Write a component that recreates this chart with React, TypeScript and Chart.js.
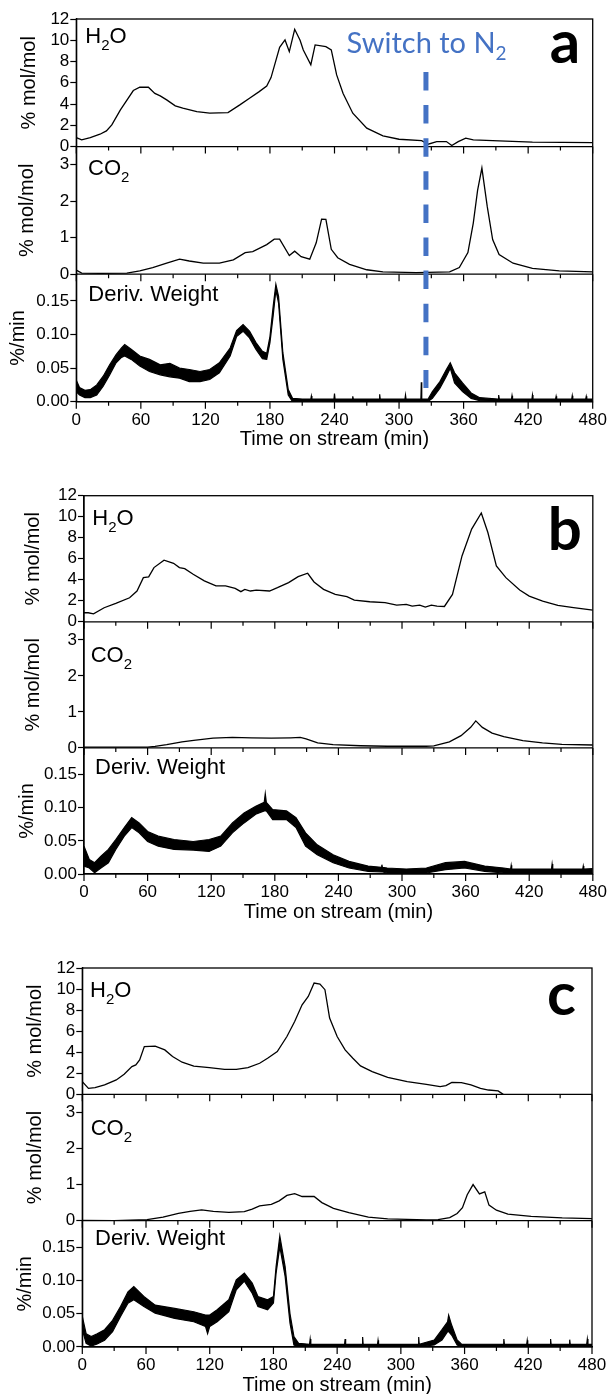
import React, { useEffect, useRef } from 'react';
import { Chart, registerables } from 'chart.js';
Chart.register(...registerables);

// ---------- axis ticks ----------
const X_TICKS = [0, 60, 120, 180, 240, 300, 360, 420, 480];
const X_MINOR = [30, 90, 150, 210, 270, 330, 390, 450];
const H2O_TICKS = [0, 2, 4, 6, 8, 10, 12];
const CO2_TICKS = [0, 1, 2, 3];
const DW_TICKS = [0, 0.05, 0.1, 0.15];
const SWITCH_TIME = 325;

// ---------- panel a ----------
const A_H2O: [number, number][] = [
  [0, 0.85], [5, 0.63], [13, 0.85], [22, 1.16], [28, 1.47], [33, 2.04], [41, 3.45], [53, 5.27], [59, 5.58],
  [67, 5.58], [73, 5.0], [78, 4.77], [84, 4.39], [92, 3.83], [99, 3.61], [112, 3.29], [124, 3.14], [141, 3.2],
  [152, 3.92], [161, 4.55], [170, 5.17], [177, 5.7], [181, 6.49], [189, 9.34], [194, 10.03], [198, 8.93],
  [203, 11.03], [208, 10.0], [211, 9.09], [218, 7.7], [222, 9.56], [232, 9.4], [237, 9.09], [242, 6.74],
  [248, 5.0], [257, 3.14], [270, 1.73], [285, 1.0], [300, 0.69], [321, 0.56], [327, 0.22], [335, 0.47],
  [344, 0.47], [349, 0.1], [355, 0.47], [362, 0.79], [369, 0.63], [393, 0.54], [424, 0.41], [480, 0.38],
];
const A_CO2: [number, number][] = [
  [0, 0.11], [5, 0.03], [22, 0.02], [47, 0.03], [59, 0.09], [71, 0.18], [84, 0.3], [96, 0.41], [105, 0.36],
  [118, 0.3], [133, 0.3], [146, 0.39], [157, 0.59], [164, 0.62], [177, 0.81], [184, 0.96], [189, 0.96],
  [198, 0.51], [203, 0.63], [209, 0.48], [217, 0.41], [223, 0.86], [228, 1.51], [232, 1.5], [237, 0.68],
  [243, 0.45], [254, 0.27], [270, 0.12], [285, 0.06], [316, 0.04], [347, 0.06], [356, 0.18], [364, 0.59],
  [369, 1.4], [373, 2.3], [377, 2.91], [382, 1.85], [387, 0.95], [393, 0.54], [406, 0.3], [424, 0.16],
  [449, 0.09], [480, 0.06],
];
// [time, upper edge, lower edge] of the noisy derivative trace
const A_DW: [number, number, number][] = [
  [0, 0.032, 0.015], [3, 0.021, 0.01], [8, 0.017, 0.006], [13, 0.018, 0.006], [19, 0.025, 0.01],
  [25, 0.038, 0.023], [31, 0.055, 0.04], [37, 0.07, 0.058], [42, 0.08, 0.066], [45, 0.085, 0.068],
  [51, 0.078, 0.063], [59, 0.068, 0.053], [68, 0.063, 0.045], [78, 0.055, 0.04], [87, 0.057, 0.037],
  [96, 0.05, 0.035], [105, 0.048, 0.03], [115, 0.045, 0.03], [124, 0.048, 0.033], [133, 0.058, 0.043],
  [143, 0.08, 0.068], [149, 0.106, 0.097], [155, 0.115, 0.105], [161, 0.105, 0.095], [167, 0.088, 0.078],
  [173, 0.075, 0.064], [177, 0.072, 0.063], [180, 0.097, 0.088], [183, 0.142, 0.128], [185.5, 0.175, 0.166],
  [188, 0.157, 0.147], [192, 0.073, 0.063], [197, 0.018, 0.01], [201, 0.005, 0.0], [210, 0.004, 0.0005],
  [218, 0.004, 0.0005], [218.5, 0.0085, 0.0005], [219, 0.004, 0.0005], [239.5, 0.004, 0.0005],
  [240, 0.012, 0.0005], [240.5, 0.004, 0.0005], [256.5, 0.004, 0.0005], [257, 0.008, 0.0005],
  [257.5, 0.004, 0.0005], [281.5, 0.004, 0.0005], [282, 0.011, 0.0005], [282.5, 0.004, 0.0005],
  [305.5, 0.004, 0.0005], [306, 0.01, 0.0005], [306.5, 0.004, 0.0005], [320.3, 0.004, 0.0005],
  [320.7, 0.029, 0.0005], [321.1, 0.004, 0.0005], [327, 0.004, 0.0005], [331, 0.015, 0.005],
  [338, 0.03, 0.02], [344, 0.048, 0.038], [347.6, 0.058, 0.05], [351.6, 0.043, 0.028], [359, 0.028, 0.015],
  [367, 0.013, 0.005], [375, 0.006, 0.0015], [392, 0.004, 0.0005], [392.6, 0.01, 0.0005],
  [393.2, 0.004, 0.0005], [404.5, 0.004, 0.0005], [405, 0.009, 0.0005], [405.5, 0.004, 0.0005],
  [423.5, 0.004, 0.0005], [424, 0.01, 0.0005], [424.5, 0.004, 0.0005], [445.5, 0.004, 0.0005],
  [446, 0.008, 0.0005], [446.5, 0.004, 0.0005], [460.5, 0.004, 0.0005], [461, 0.009, 0.0005],
  [461.5, 0.004, 0.0005], [473.5, 0.004, 0.0005], [474, 0.008, 0.0005], [474.5, 0.004, 0.0005],
  [480, 0.004, 0.0005],
];

// ---------- panel b ----------
const B_H2O: [number, number][] = [
  [0, 0.86], [4, 0.86], [9, 0.76], [19, 1.34], [30, 1.75], [43, 2.29], [50, 2.93], [56, 4.2], [61, 4.27],
  [66, 5.16], [75.5, 5.86], [84.5, 5.57], [90, 5.16], [95, 5.06], [103, 4.52], [113.5, 3.89], [124.5, 3.41],
  [133.5, 3.41], [142.6, 3.18], [148, 2.87], [151.7, 3.09], [157, 2.93], [162.5, 3.02], [175, 2.93],
  [182.5, 3.25], [193, 3.73], [202, 4.3], [211, 4.62], [217, 3.79], [226, 3.09], [237, 2.61], [248, 2.39],
  [255, 2.07], [269.6, 1.91], [284, 1.82], [295, 1.59], [304, 1.66], [309.6, 1.5], [316.7, 1.59], [322, 1.4],
  [327.7, 1.59], [333, 1.5], [340, 1.46], [347.6, 2.61], [356.6, 6.27], [365.7, 8.82], [374.8, 10.35],
  [381, 8.5], [389, 5.32], [398, 4.2], [411, 3.02], [420, 2.45], [432.7, 1.97], [447, 1.56], [461.8, 1.34],
  [480, 1.11],
];
const B_CO2: [number, number][] = [
  [0, 0.02], [30, 0.02], [60, 0.02], [67, 0.04], [78, 0.09], [92.5, 0.17], [103.5, 0.21], [121.7, 0.27],
  [140, 0.29], [158, 0.28], [176.6, 0.27], [195, 0.28], [204, 0.29], [209.5, 0.25], [220.4, 0.14], [235, 0.09],
  [260.7, 0.06], [286, 0.046], [322.8, 0.046], [330, 0.055], [344.7, 0.17], [355.7, 0.34], [364.8, 0.57],
  [369.6, 0.75], [375.8, 0.57], [385, 0.41], [396, 0.31], [414, 0.2], [432.5, 0.14], [450.8, 0.1], [480, 0.08],
];
const B_DW: [number, number, number][] = [
  [0, 0.042, 0.012], [5, 0.022, 0.009], [10, 0.017, 0.002], [16, 0.027, 0.009], [23, 0.037, 0.017],
  [30, 0.052, 0.037], [38, 0.07, 0.057], [45, 0.085, 0.07], [52, 0.077, 0.062], [60, 0.064, 0.049],
  [70, 0.057, 0.042], [85, 0.052, 0.037], [103, 0.049, 0.036], [118, 0.052, 0.034], [129, 0.057, 0.042],
  [140, 0.077, 0.062], [151, 0.092, 0.077], [162, 0.102, 0.09], [170, 0.108, 0.095], [171, 0.121, 0.095],
  [172, 0.108, 0.095], [178, 0.097, 0.082], [191, 0.095, 0.082], [200, 0.085, 0.07], [209, 0.062, 0.042],
  [220, 0.044, 0.029], [235, 0.029, 0.017], [250, 0.019, 0.009], [268, 0.012, 0.004], [280.5, 0.01, 0.003],
  [281, 0.014, 0.003], [281.5, 0.01, 0.003], [286, 0.009, 0.0015], [304, 0.0075, 0.0015], [323, 0.009, 0.0015],
  [341, 0.017, 0.0065], [359, 0.019, 0.009], [378, 0.012, 0.004], [396, 0.009, 0.0015], [402.5, 0.0075, 0.0015],
  [403, 0.013, 0.0015], [403.5, 0.0075, 0.0015], [432, 0.0075, 0.001], [441, 0.0075, 0.001], [441.6, 0.015, 0.001],
  [442.2, 0.0075, 0.001], [470.5, 0.0075, 0.001], [471, 0.012, 0.001], [471.5, 0.0075, 0.001], [480, 0.008, 0.001],
];

// ---------- panel c ----------
const C_H2O: [number, number][] = [
  [0, 1.21], [5.8, 0.57], [12, 0.63], [21, 0.89], [32, 1.37], [39.4, 1.9], [46.7, 2.63], [50.4, 2.79],
  [54, 3.27], [58.4, 4.54], [68.6, 4.57], [77.7, 4.22], [85, 3.59], [94, 3.05], [105, 2.67], [119.7, 2.54],
  [134, 2.38], [145, 2.38], [156, 2.54], [167, 2.95], [174.5, 3.43], [183.6, 4.06], [192.7, 5.49], [200, 6.92],
  [207, 8.5], [212.8, 9.3], [218.3, 10.57], [223.8, 10.48], [228.5, 9.94], [232.9, 7.24], [240, 5.49],
  [247.5, 4.22], [254.8, 3.43], [262, 2.7], [273, 2.16], [287.6, 1.62], [306, 1.21], [324, 0.95], [337, 0.73],
  [342.4, 0.83], [348, 1.14], [357, 1.11], [366, 0.89], [375, 0.57], [382.5, 0.41], [391.6, 0.32], [396.4, 0.0],
];
const C_CO2: [number, number][] = [
  [0, 0.01], [30, 0.0], [61, 0.03], [76, 0.1], [90.5, 0.2], [101.5, 0.26], [112.4, 0.3], [123.4, 0.26],
  [138, 0.23], [152.6, 0.25], [160, 0.32], [167, 0.41], [178, 0.45], [185.4, 0.55], [192.7, 0.7], [200, 0.75],
  [207, 0.67], [218.3, 0.67], [225.6, 0.5], [236.5, 0.34], [251, 0.22], [269.4, 0.1], [287.6, 0.05], [324, 0.02],
  [335, 0.03], [346, 0.085], [353, 0.2], [358, 0.36], [362.5, 0.72], [368, 1.0], [374, 0.74], [379, 0.8],
  [383, 0.43], [390, 0.29], [400.8, 0.18], [422.7, 0.12], [452, 0.075], [480, 0.057],
];
const C_DW: [number, number, number][] = [
  [0, 0.046, 0.026], [3.6, 0.02, 0.0055], [8.4, 0.0156, 0.0015], [14, 0.02, 0.0045], [21, 0.026, 0.01],
  [28.5, 0.04, 0.023], [36, 0.061, 0.046], [43, 0.083, 0.066], [48.5, 0.091, 0.071], [58, 0.076, 0.061],
  [68.6, 0.063, 0.051], [87, 0.058, 0.043], [105, 0.053, 0.038], [116, 0.048, 0.031], [118, 0.048, 0.02],
  [120, 0.048, 0.031], [127, 0.056, 0.038], [138, 0.071, 0.053], [145, 0.101, 0.086], [152.6, 0.111, 0.099],
  [160, 0.096, 0.081], [165.4, 0.076, 0.061], [174.5, 0.071, 0.056], [180, 0.076, 0.066], [182.5, 0.121, 0.111],
  [186, 0.167, 0.151], [191, 0.121, 0.106], [195.6, 0.05, 0.036], [199.3, 0.0156, 0.003], [203.7, 0.0055, 0.0005],
  [214, 0.004, 0.0005], [214.6, 0.012, 0.0005], [215.2, 0.004, 0.0005], [247, 0.004, 0.0005], [247.5, 0.012, 0.0005],
  [248, 0.004, 0.0005], [263.5, 0.004, 0.0005], [264, 0.015, 0.0005], [264.5, 0.004, 0.0005], [278, 0.004, 0.0005],
  [278.5, 0.01, 0.0005], [279, 0.004, 0.0005], [316.3, 0.004, 0.0005], [316.8, 0.015, 0.0005], [317.3, 0.004, 0.0005],
  [331.4, 0.0105, 0.003], [338.7, 0.026, 0.0105], [344, 0.038, 0.023], [345, 0.048, 0.023], [347.8, 0.033, 0.018],
  [353, 0.0105, 0.003], [357, 0.0045, 0.0005], [396.5, 0.004, 0.0005], [397, 0.012, 0.0005], [397.5, 0.004, 0.0005],
  [418.5, 0.004, 0.0005], [419, 0.01, 0.0005], [419.5, 0.004, 0.0005], [440.5, 0.004, 0.0005], [441, 0.012, 0.0005],
  [441.5, 0.004, 0.0005], [458.5, 0.004, 0.0005], [459, 0.011, 0.0005], [459.5, 0.004, 0.0005], [475, 0.004, 0.0005],
  [475.6, 0.012, 0.0005], [476.2, 0.004, 0.0005], [480, 0.004, 0.0005],
];

// ---------- layout / style ----------
const FONT = "'Liberation Sans', Arial, Helvetica, sans-serif";
const LETTER_FONT = "Lato, 'Open Sans', 'DejaVu Sans', sans-serif";
const BLUE = '#4472C4';

type Panel = {
  key: string; top: number; height: number; L: number; R: number; T: number; B: number;
  letter: string; letterDx: number; letterDy: number;
  h2oPos: [number, number]; co2Pos: [number, number]; dwPos: [number, number];
  titlePad: [number, number, number];
  h2o: [number, number][]; co2: [number, number][]; dw: [number, number, number][];
  switchN2?: boolean;
};

const PANELS: Panel[] = [
  { key: 'a', top: 0, height: 452, L: 76.3, R: 592.7, T: 19, B: 401.7, letter: 'a', letterDx: -43, letterDy: 44,
    h2oPos: [9, 24.3], co2Pos: [11.7, 28.4], dwPos: [12, 26.5], titlePad: [17, 15.5, 6.5],
    h2o: A_H2O, co2: A_CO2, dw: A_DW, switchN2: true },
  { key: 'b', top: 470, height: 454, L: 84, R: 593, T: 495.7, B: 874, letter: 'b', letterDx: -45, letterDy: 54.3,
    h2oPos: [8.3, 29.3], co2Pos: [6.7, 40], dwPos: [11, 26], titlePad: [21, 21, 15],
    h2o: B_H2O, co2: B_CO2, dw: B_DW },
  { key: 'c', top: 940, height: 457, L: 82.3, R: 592, T: 968, B: 1347, letter: 'c', letterDx: -45, letterDy: 47,
    h2oPos: [7.7, 29], co2Pos: [8.4, 41], dwPos: [12.7, 24.3], titlePad: [23, 23, 13.5],
    h2o: C_H2O, co2: C_CO2, dw: C_DW },
];

function drawSub(ctx: CanvasRenderingContext2D, x: number, y: number, a: string, sub: string, b: string,
  size: number, subSize: number, subDy: number, family: string) {
  ctx.font = `${size}px ${family}`;
  ctx.fillText(a, x, y);
  let w = ctx.measureText(a).width;
  ctx.font = `${subSize}px ${family}`;
  ctx.fillText(sub, x + w, y + subDy);
  w += ctx.measureText(sub).width;
  if (b) {
    ctx.font = `${size}px ${family}`;
    ctx.fillText(b, x + w, y);
  }
}

function yAxis(ticks: number[], min: number, max: number, weight: number, pad: number, L: number, fmt: (v: number) => string) {
  return {
    type: 'linear', position: 'left', stack: 'panel', stackWeight: 1, weight, min, max,
    afterBuildTicks: (s: any) => { s.ticks = ticks.map((v) => ({ value: v })); },
    afterFit: (s: any) => { s.width = L; },
    ticks: { font: { family: FONT, size: 17 }, color: '#000', padding: 1, autoSkip: false, callback: (v: any) => fmt(Number(v)) },
    grid: { display: true, drawOnChartArea: false, tickLength: 6, tickColor: '#000', tickWidth: 1.2 },
    border: { display: true, color: '#000', width: 1.3 },
    title: { display: true, text: '', font: { family: FONT, size: 20 }, color: '#000', padding: { top: pad, bottom: 0 } },
  } as any;
}

function makeChart(canvas: HTMLCanvasElement, p: Panel) {
  const deco = {
    id: 'deco' + p.key,
    afterDraw(chart: any) {
      const ctx: CanvasRenderingContext2D = chart.ctx;
      const ca = chart.chartArea;
      const x = chart.scales.x, yH = chart.scales.yH, yC = chart.scales.yC, yD = chart.scales.yD;
      ctx.save();
      ctx.strokeStyle = '#000';
      ctx.lineWidth = 1.3;
      ctx.strokeRect(ca.left, ca.top, ca.right - ca.left, ca.bottom - ca.top);
      ctx.beginPath();
      [yH.bottom, yC.bottom].forEach((y: number) => { ctx.moveTo(ca.left, y); ctx.lineTo(ca.right, y); });
      ctx.stroke();
      ctx.lineWidth = 1.2;
      ctx.beginPath();
      [yH.bottom, yC.bottom, ca.bottom].forEach((y: number) => {
        X_TICKS.forEach((v) => { const px = x.getPixelForValue(v); ctx.moveTo(px, y); ctx.lineTo(px, y + 7); });
        X_MINOR.forEach((v) => { const px = x.getPixelForValue(v); ctx.moveTo(px, y); ctx.lineTo(px, y + 4); });
      });
      ctx.stroke();

      ctx.fillStyle = '#000';
      ctx.textBaseline = 'alphabetic';
      ctx.textAlign = 'left';
      drawSub(ctx, ca.left + p.h2oPos[0], yH.top + p.h2oPos[1], 'H', '2', 'O', 22, 15, 7, FONT);
      drawSub(ctx, ca.left + p.co2Pos[0], yC.top + p.co2Pos[1], 'CO', '2', '', 22, 15, 7, FONT);
      ctx.font = `22px ${FONT}`;
      ctx.fillText('Deriv. Weight', ca.left + p.dwPos[0], yD.top + p.dwPos[1]);
      ctx.font = `bold 60px ${LETTER_FONT}`;
      ctx.fillText(p.letter, ca.right + p.letterDx, ca.top + p.letterDy);

      if (p.switchN2) {
        const sx = x.getPixelForValue(SWITCH_TIME);
        ctx.strokeStyle = BLUE;
        ctx.lineWidth = 5;
        ctx.setLineDash([18.5, 14.6]);
        ctx.beginPath();
        ctx.moveTo(sx, 72);
        ctx.lineTo(sx, 388);
        ctx.stroke();
        ctx.setLineDash([]);
        ctx.fillStyle = BLUE;
        drawSub(ctx, 346.5, 53.3, 'Switch to N', '2', '', 29, 19, 7, LETTER_FONT);
      }
      ctx.restore();
    },
  };

  const pts = (arr: number[][], k: number) => arr.map((r) => ({ x: r[0], y: r[k] }));
  const yH = yAxis(H2O_TICKS, 0, 12, 3, p.titlePad[0], p.L, (v) => String(v));
  yH.title.text = '% mol/mol';
  const yC = yAxis(CO2_TICKS, 0, 3.5, 2, p.titlePad[1], p.L, (v) => String(v));
  yC.title.text = '% mol/mol';
  const yD = yAxis(DW_TICKS, 0, 0.19, 1, p.titlePad[2], p.L, (v) => v.toFixed(2));
  yD.title.text = '%/min';

  const plotBottom = p.B - p.top;
  return new Chart(canvas, {
    type: 'line',
    data: {
      datasets: [
        { data: pts(p.h2o, 1), yAxisID: 'yH', borderColor: '#000', borderWidth: 1.3, pointRadius: 0, fill: false, tension: 0 },
        { data: pts(p.co2, 1), yAxisID: 'yC', borderColor: '#000', borderWidth: 1.3, pointRadius: 0, fill: false, tension: 0 },
        { data: pts(p.dw, 1), yAxisID: 'yD', borderColor: '#000', borderWidth: 1.2, pointRadius: 0, fill: false, tension: 0 },
        { data: pts(p.dw, 2), yAxisID: 'yD', borderColor: '#000', borderWidth: 1.2, pointRadius: 0, fill: '-1', backgroundColor: '#000', tension: 0 },
      ],
    } as any,
    options: {
      animation: false,
      responsive: false,
      devicePixelRatio: 1,
      events: [],
      layout: { padding: { left: 0, right: 608 - p.R, top: p.T - p.top, bottom: Math.max(0, p.height - plotBottom - 50) } },
      plugins: { legend: { display: false }, tooltip: { enabled: false } },
      scales: {
        x: {
          type: 'linear', position: 'bottom', min: 0, max: 480,
          afterBuildTicks: (s: any) => { s.ticks = X_TICKS.map((v) => ({ value: v })); },
          afterFit: (s: any) => { s.height = 50; },
          ticks: { font: { family: FONT, size: 17 }, color: '#000', padding: 1, maxRotation: 0, autoSkip: false },
          grid: { display: true, drawOnChartArea: false, tickLength: 7, tickColor: 'rgba(0,0,0,0)' },
          border: { display: true, color: '#000', width: 1.3 },
          title: { display: true, text: 'Time on stream (min)', font: { family: FONT, size: 20 }, color: '#000', padding: 0 },
        },
        yD, yC, yH,
      },
    } as any,
    plugins: [deco],
  });
}

export default function App() {
  const canvases = useRef<(HTMLCanvasElement | null)[]>([]);
  useEffect(() => {
    const charts = PANELS.map((p, i) => makeChart(canvases.current[i] as HTMLCanvasElement, p));
    const fonts: any = (document as any).fonts;
    if (fonts && fonts.load) {
      Promise.all([fonts.load(`bold 60px Lato`), fonts.load(`29px Lato`)]).then(() => {
        charts.forEach((c) => c.draw());
      }).catch(() => {});
    }
    return () => charts.forEach((c) => c.destroy());
  }, []);
  return (
    <div style={{ position: 'absolute', left: 0, top: 0, width: 608, height: 1394, overflow: 'hidden', background: '#fff' }}>
      {PANELS.map((p, i) => (
        <canvas
          key={p.key}
          ref={(el) => { canvases.current[i] = el; }}
          width={608}
          height={p.height}
          style={{ position: 'absolute', left: 0, top: p.top, width: 608, height: p.height }}
        />
      ))}
    </div>
  );
}
